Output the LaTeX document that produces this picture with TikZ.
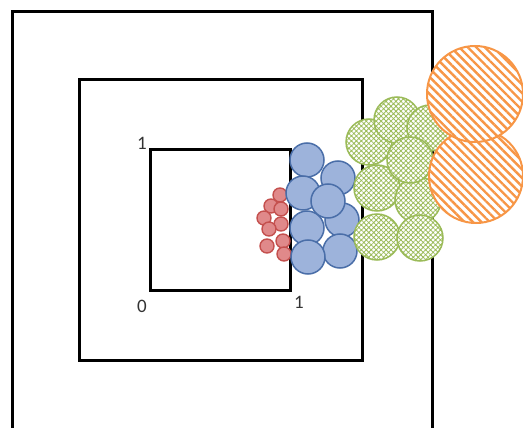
\documentclass[tikz,border=0pt]{standalone}
\usepackage{fontspec}
\setmainfont{Carlito}
\usetikzlibrary{patterns.meta}

\definecolor{bluefill}{HTML}{9DB3DB}
\definecolor{blueline}{HTML}{4A6EA8}
\definecolor{redfill}{HTML}{E0898A}
\definecolor{redline}{HTML}{C4504E}
\definecolor{greenline}{HTML}{9BBB59}
\definecolor{orangeline}{HTML}{F79646}

\begin{document}
\begin{tikzpicture}[x=1pt, y=-1pt,
    square/.style={line width=3pt},
    redball/.style={draw=redline, fill=redfill, line width=1.4pt},
    blueball/.style={draw=blueline, fill=bluefill, line width=1.5pt},
    greenball/.style={draw=greenline, line width=1.5pt, preaction={fill=white},
      pattern={Hatch[angle=45, distance=3.5pt, line width=0.8pt]}, pattern color=greenline},
    orangeball/.style={draw=orangeline, line width=2pt, preaction={fill=white},
      pattern={Lines[angle=-45, distance=6pt, line width=2.4pt]}, pattern color=orangeline},
    tick/.style={font=\fontsize{19}{20}\selectfont, text=black!80}]
      % 1. 畫布範圍
      \useasboundingbox (0,0) rectangle (523,428);
      \clip (0,0) rectangle (523,428);

      % 2. 三個正方形
      \draw[square] (12,12) rectangle (432,445);
      \draw[square] (79,80) rectangle (362,360);
      \draw[square] (150,150) rectangle (290,290);

      % 3. 座標標記
      \node[tick] (one_y) at (142,143) {1};
      \node[tick] (zero) at (142,306) {0};
      \node[tick] (one_x) at (299,302) {1};

      % 4. 小圓（紅）
      \foreach \cx/\cy in {280/195, 271/206, 281/209, 264/218, 281/224,
                           269/229, 283/241, 267/246, 284/254}
        \draw[redball] (\cx,\cy) circle (7);

      % 5. 中圓（藍）
      \foreach \cx/\cy in {307/160, 338/178, 303/193, 342/220, 307/228,
                           340/251, 308/257, 328/201}
        \draw[blueball] (\cx,\cy) circle (17);

      % 6. 大圓（綠）
      \foreach \cx/\cy in {369/142, 397/120, 430/128, 377/188, 418/200,
                           377/237, 420/238, 410/160}
        \draw[greenball] (\cx,\cy) circle (23);

      % 7. 最大圓（橙）
      \draw[orangeball] (476,176) circle (47);
      \draw[orangeball] (475,94) circle (48);
    \end{tikzpicture}
\end{document}
